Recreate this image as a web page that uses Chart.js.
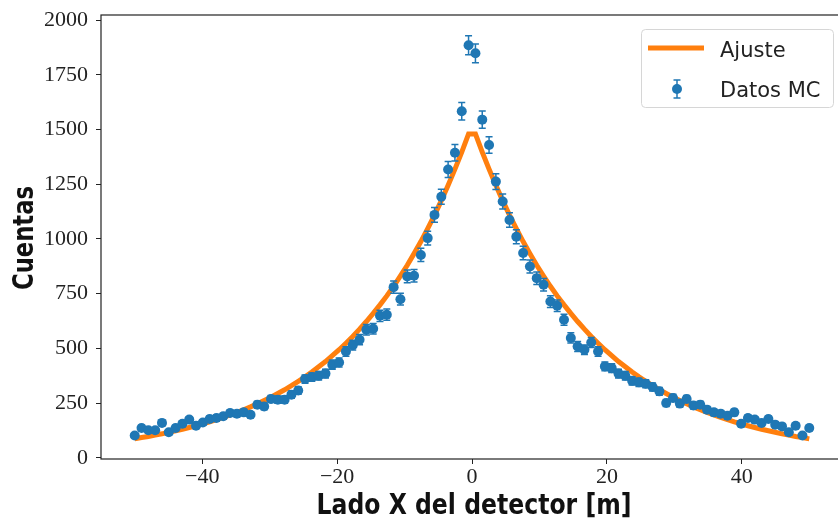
<!DOCTYPE html>
<html>
<head>
<meta charset="utf-8">
<script src="https://cdn.jsdelivr.net/npm/chart.js"></script>
<style>
html, body { margin: 0; padding: 0; background: #fff; overflow: hidden }
#wrap { position: absolute; left: 0; top: 0; width: 848px; height: 531px }
</style>
</head>
<body>
<div id="wrap"><canvas id="chart" width="848" height="531"></canvas></div>
<script>
// bin centres along the detector side [m]
const xPositions = [
  -50, -48.99, -47.98, -46.97, -45.96, -44.95, -43.94, -42.93, -41.92, -40.91,
  -39.9, -38.89, -37.88, -36.87, -35.86, -34.85, -33.84, -32.83, -31.82, -30.81,
  -29.8, -28.79, -27.78, -26.77, -25.76, -24.75, -23.74, -22.73, -21.72, -20.71,
  -19.7, -18.69, -17.68, -16.67, -15.66, -14.65, -13.64, -12.63, -11.62, -10.61,
  -9.6, -8.59, -7.58, -6.57, -5.56, -4.55, -3.54, -2.53, -1.52, -0.51,
  0.51, 1.52, 2.53, 3.54, 4.55, 5.56, 6.57, 7.58, 8.59, 9.6,
  10.61, 11.62, 12.63, 13.64, 14.65, 15.66, 16.67, 17.68, 18.69, 19.7,
  20.71, 21.72, 22.73, 23.74, 24.75, 25.76, 26.77, 27.78, 28.79, 29.8,
  30.81, 31.82, 32.83, 33.84, 34.85, 35.86, 36.87, 37.88, 38.89, 39.9,
  40.91, 41.92, 42.93, 43.94, 44.95, 45.96, 46.97, 47.98, 48.99, 50
]

// Monte Carlo counts
const countsMC = [
  102, 137, 126, 126, 160, 117, 137, 156, 175, 147,
  162, 178, 182, 190, 205, 202, 208, 197, 243, 235,
  269, 266, 266, 289, 308, 360, 369, 375, 385, 426,
  436, 486, 515, 540, 585, 590, 649, 654, 780, 725,
  829, 832, 927, 1004, 1110, 1193, 1317, 1394, 1583, 1885,
  1848, 1545, 1429, 1262, 1171, 1087, 1010, 936, 874, 821,
  791, 714, 695, 631, 548, 509, 494, 527, 486, 418,
  410, 385, 375, 352, 345, 339, 324, 304, 251, 274,
  248, 269, 239, 243, 220, 208, 202, 193, 208, 156,
  182, 175, 160, 178, 152, 144, 117, 147, 102, 137
]

// fitted curve, same bins
const fitValues = [
  87, 93, 98, 104, 110, 117, 124, 131, 139, 147,
  156, 165, 175, 185, 196, 208, 220, 233, 247, 262,
  277, 294, 311, 330, 350, 370, 392, 416, 440, 467,
  494, 524, 555, 588, 623, 660, 699, 740, 784, 831,
  880, 933, 988, 1047, 1109, 1175, 1245, 1319, 1397, 1480,
  1480, 1397, 1319, 1245, 1175, 1109, 1047, 988, 933, 880,
  831, 784, 740, 699, 660, 623, 588, 555, 524, 494,
  467, 440, 416, 392, 370, 350, 330, 311, 294, 277,
  262, 247, 233, 220, 208, 196, 185, 175, 165, 156,
  147, 139, 131, 124, 117, 110, 104, 98, 93, 87
]

const xTicks = [-40, -20, 0, 20, 40]
const yTicks = [0, 250, 500, 750, 1000, 1250, 1500, 1750, 2000]

const BLUE = '#1f77b4'
const ORANGE = '#ff7f0e'
const INK = '#222'

const dataPoints = xPositions.map((x, i) => ({x: x, y: countsMC[i]}))
const fitPoints = xPositions.map((x, i) => ({x: x, y: fitValues[i]}))

// error bars (sqrt N) under the markers
const errorBars = {
    id: 'errorBars',
    beforeDatasetDraw(chart, args) {
        if (args.index !== 0) return
        const ctx = chart.ctx
        const xs = chart.scales.x, ys = chart.scales.y
        ctx.save()
        ctx.strokeStyle = BLUE
        ctx.lineWidth = 1.5
        countsMC.forEach((v, i) => {
            const e = Math.sqrt(v)
            const px = xs.getPixelForValue(xPositions[i])
            const top = ys.getPixelForValue(v + e)
            const bot = ys.getPixelForValue(v - e)
            ctx.beginPath()
            ctx.moveTo(px, top); ctx.lineTo(px, bot)
            ctx.moveTo(px - 3.5, top); ctx.lineTo(px + 3.5, top)
            ctx.moveTo(px - 3.5, bot); ctx.lineTo(px + 3.5, bot)
            ctx.stroke()
        })
        ctx.restore()
    }
}

function squashedText(ctx, text, cx, cy, targetW) {
    const w = ctx.measureText(text).width
    ctx.save()
    ctx.translate(cx, cy)
    ctx.scale(targetW / w, 1)
    ctx.textAlign = 'center'
    ctx.fillText(text, 0, 0)
    ctx.restore()
}

// frame, axis titles, legend
const decorations = {
    id: 'decorations',
    afterDraw(chart) {
        const ctx = chart.ctx
        const a = chart.chartArea
        ctx.save()
        ctx.strokeStyle = INK
        ctx.lineWidth = 1.2
        ctx.strokeRect(a.left, a.top, a.right - a.left, a.bottom - a.top)

        ctx.fillStyle = '#111'
        ctx.font = 'bold 28px "DejaVu Sans"'
        ctx.textBaseline = 'alphabetic'
        squashedText(ctx, 'Lado X del detector [m]', 474, 514, 315)
        ctx.save()
        ctx.translate(33, 238)
        ctx.rotate(-Math.PI / 2)
        squashedText(ctx, 'Cuentas', 0, 0, 104)
        ctx.restore()

        // legend
        ctx.beginPath()
        ctx.roundRect(641.5, 29.5, 192, 78, 4)
        ctx.fillStyle = 'rgba(255,255,255,0.8)'
        ctx.fill()
        ctx.strokeStyle = '#d6d6d6'
        ctx.lineWidth = 1
        ctx.stroke()

        ctx.strokeStyle = ORANGE
        ctx.lineWidth = 5
        ctx.beginPath()
        ctx.moveTo(648, 48); ctx.lineTo(704, 48)
        ctx.stroke()

        ctx.strokeStyle = BLUE
        ctx.lineWidth = 1.5
        ctx.beginPath()
        ctx.moveTo(677, 80); ctx.lineTo(677, 98)
        ctx.moveTo(673.5, 80); ctx.lineTo(680.5, 80)
        ctx.moveTo(673.5, 98); ctx.lineTo(680.5, 98)
        ctx.stroke()
        ctx.fillStyle = BLUE
        ctx.beginPath()
        ctx.arc(677, 89, 5, 0, Math.PI * 2)
        ctx.fill()

        ctx.fillStyle = INK
        ctx.font = '21px "DejaVu Sans"'
        ctx.textAlign = 'left'
        ctx.fillText('Ajuste', 720, 57)
        ctx.fillText('Datos MC', 720, 97)
        ctx.restore()
    }
}

const tickFont = {family: 'Liberation Serif', size: 22}

new Chart(document.getElementById('chart'), {
    type: 'scatter',
    data: {
        datasets: [
            {label: 'Datos MC', data: dataPoints, backgroundColor: BLUE, borderWidth: 0,
             pointRadius: 5, pointHoverRadius: 5, order: 0},
            {label: 'Ajuste', type: 'line', data: fitPoints, borderColor: ORANGE, borderWidth: 5,
             pointRadius: 0, fill: false, tension: 0, order: 1}
        ]
    },
    options: {
        responsive: false,
        animation: false,
        events: [],
        layout: {padding: {top: 15, right: 3, left: 0, bottom: 0}},
        plugins: {legend: {display: false}, tooltip: {enabled: false}},
        scales: {
            x: {
                type: 'linear', min: -55, max: 55,
                afterBuildTicks: s => { s.ticks = xTicks.map(v => ({value: v})) },
                afterFit: s => { s.height = 72; s.paddingLeft = 0; s.paddingRight = 0 },
                ticks: {font: tickFont, color: INK, padding: 0,
                        callback: v => String(v).replace('-', '\u2212')},
                grid: {drawOnChartArea: false, tickLength: 5, tickColor: INK},
                border: {display: false}
            },
            y: {
                min: -5, max: 2023,
                afterBuildTicks: s => { s.ticks = yTicks.map(v => ({value: v})) },
                afterFit: s => { s.width = 101; s.paddingTop = 0; s.paddingBottom = 0 },
                ticks: {font: tickFont, color: INK, padding: 8, callback: v => String(v)},
                grid: {drawOnChartArea: false, tickLength: 5, tickColor: INK},
                border: {display: false}
            }
        }
    },
    plugins: [errorBars, decorations]
})
</script>
</body>
</html>
